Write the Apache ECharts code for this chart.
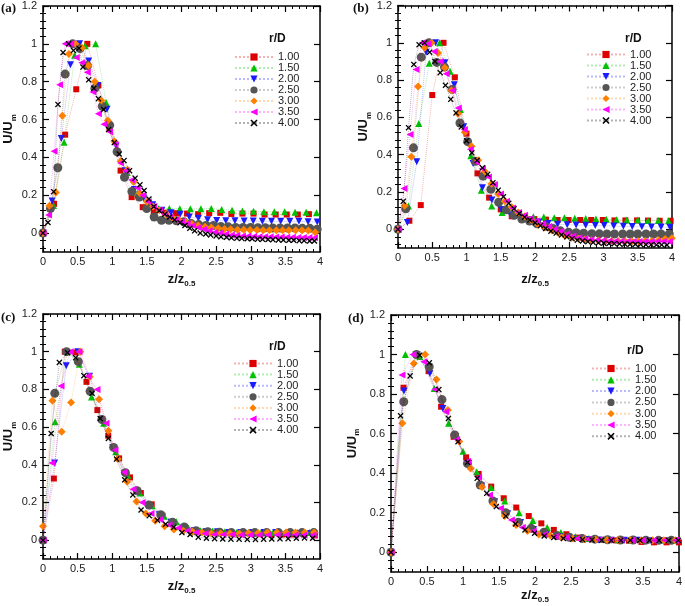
<!DOCTYPE html>
<html><head><meta charset="utf-8">
<script src="https://cdn.jsdelivr.net/npm/echarts@6/dist/echarts.min.js"></script>
<style>html,body{margin:0;padding:0;background:#fff}#c{width:685px;height:606px}</style>
</head><body><div id="c"></div>
<script>
// ---------- DATA ----------
const seriesNames = ['1.00','1.50','2.00','2.50','3.00','3.50','4.00'];
const panelLabels = ['(a)','(b)','(c)','(d)'];
const legendTitle = 'r/D';
const yMajorTicks = [0,0.2,0.4,0.6,0.8,1,1.2];
const yMinorTicks = [-0.08,-0.04,0.04,0.08,0.12,0.16,0.24,0.28,0.32,0.36,0.44,0.48,0.52,0.56,0.64,0.68,0.72,0.76,0.84,0.88,0.92,0.96,1.04,1.08,1.12,1.16];

// panel (a)
const a100x=[0,0.16,0.32,0.48,0.64,0.80,0.96,1.12,1.28,1.44,1.60,1.76,1.92,2.08,2.24,2.40,2.56,2.72,2.88,3.04,3.20,3.36,3.52,3.68,3.84];
const a100y=[0,0.155,0.52,0.76,1.0,0.78,0.55,0.33,0.19,0.137,0.112,0.108,0.105,0.103,0.10,0.105,0.107,0.101,0.103,0.103,0.098,0.098,0.098,0.098,0.100];
const a150x=[0,0.152,0.304,0.456,0.608,0.76,0.912,1.064,1.216,1.368,1.52,1.672,1.824,1.976,2.128,2.28,2.43,2.58,2.73,2.88,3.04,3.19,3.34,3.49,3.64,3.80,3.95];
const a150y=[0,0.146,0.48,0.94,0.99,1.0,0.69,0.45,0.32,0.21,0.155,0.13,0.13,0.128,0.128,0.128,0.13,0.125,0.12,0.117,0.115,0.113,0.113,0.113,0.11,0.11,0.108];
const a200x=[0,0.132,0.264,0.396,0.528,0.66,0.792,0.924,1.056,1.188,1.32,1.452,1.584,1.716,1.848,1.98,2.112,2.244,2.376,2.508,2.64,2.772,2.904,3.036,3.168,3.30,3.432,3.564,3.696,3.828,3.96];
const a200y=[0,0.17,0.50,0.89,1.0,0.91,0.78,0.655,0.46,0.33,0.23,0.185,0.15,0.12,0.108,0.10,0.085,0.078,0.07,0.066,0.065,0.065,0.064,0.064,0.062,0.062,0.062,0.062,0.062,0.06,0.058];
const a250x=[0,0.107,0.214,0.32,0.428,0.535,0.642,0.749,0.856,0.963,1.07,1.177,1.284,1.391,1.498,1.605,1.712,1.819,1.926,2.033,2.14,2.247,2.354,2.461,2.568,2.675,2.782,2.889,2.996,3.103,3.21,3.317,3.424,3.531,3.638,3.745,3.852,3.959];
const a250y=[0,0.13,0.345,0.84,1.0,0.975,0.885,0.765,0.67,0.57,0.43,0.295,0.22,0.19,0.13,0.085,0.068,0.068,0.065,0.06,0.05,0.045,0.04,0.04,0.035,0.033,0.03,0.03,0.03,0.028,0.028,0.027,0.027,0.027,0.027,0.025,0.025,0.02];
const a300x=[0,0.094,0.187,0.28,0.374,0.468,0.561,0.655,0.748,0.842,0.935,1.03,1.12,1.22,1.31,1.40,1.50,1.59,1.68,1.78,1.87,1.96,2.06,2.15,2.24,2.34,2.43,2.53,2.62,2.71,2.81,2.90,2.99,3.09,3.18,3.27,3.37,3.46,3.55,3.65,3.74,3.83,3.93];
const a300y=[0,0.145,0.215,0.62,0.947,1.0,0.98,0.885,0.80,0.70,0.595,0.485,0.38,0.335,0.27,0.21,0.165,0.14,0.12,0.10,0.08,0.07,0.058,0.048,0.04,0.034,0.03,0.026,0.022,0.02,0.018,0.017,0.016,0.016,0.015,0.015,0.015,0.015,0.015,0.015,0.015,0.014,0.005];
const a350x=[0,0.08,0.16,0.24,0.32,0.40,0.48,0.56,0.64,0.72,0.80,0.88,0.96,1.04,1.12,1.20,1.28,1.36,1.44,1.52,1.60,1.68,1.76,1.84,1.92,2.00,2.08,2.16,2.24,2.32,2.40,2.48,2.56,2.64,2.72,2.80,2.88,2.96,3.04,3.12,3.20,3.28,3.36,3.44,3.52,3.60,3.68,3.76,3.84,3.92];
const a350y=[0,0.095,0.433,0.784,1.0,1.0,0.928,0.90,0.85,0.745,0.63,0.575,0.535,0.47,0.37,0.33,0.28,0.24,0.20,0.165,0.14,0.12,0.10,0.085,0.07,0.06,0.05,0.04,0.03,0.02,0.012,0.005,0,-0.005,-0.01,-0.012,-0.015,-0.016,-0.018,-0.019,-0.02,-0.02,-0.021,-0.021,-0.022,-0.022,-0.023,-0.023,-0.024,-0.025];
const a400x=[0,0.072,0.154,0.216,0.29,0.37,0.44,0.52,0.577,0.66,0.735,0.80,0.875,0.947,1.03,1.1,1.17,1.25,1.33,1.40,1.46,1.53,1.6,1.68,1.76,1.83,1.9,1.98,2.05,2.12,2.19,2.27,2.35,2.42,2.5,2.57,2.65,2.72,2.8,2.87,2.95,3.02,3.1,3.17,3.25,3.32,3.4,3.47,3.55,3.62,3.7,3.77,3.85,3.92];
const a400y=[0,0.056,0.219,0.68,0.954,1.0,0.965,0.977,0.877,0.81,0.765,0.71,0.653,0.547,0.478,0.418,0.383,0.33,0.29,0.255,0.225,0.18,0.14,0.118,0.10,0.085,0.07,0.055,0.04,0.025,0.012,0,-0.005,-0.01,-0.015,-0.02,-0.022,-0.025,-0.027,-0.028,-0.03,-0.03,-0.032,-0.033,-0.034,-0.035,-0.036,-0.037,-0.038,-0.038,-0.04,-0.04,-0.042,-0.042];

// panel (b)
const b100x=[0,0.166,0.332,0.50,0.665,0.83,1.0,1.16,1.33,1.5,1.66,1.83,1.99,2.16,2.33,2.49,2.66,2.82,2.99,3.16,3.32,3.49,3.65,3.82,3.98];
const b100y=[0,0.046,0.13,0.72,1.0,0.815,0.513,0.30,0.17,0.107,0.07,0.06,0.055,0.052,0.05,0.05,0.05,0.05,0.05,0.048,0.048,0.048,0.047,0.046,0.046];
const b150x=[0,0.152,0.304,0.456,0.608,0.76,0.912,1.064,1.216,1.368,1.52,1.672,1.824,1.976,2.128,2.28,2.43,2.58,2.74,2.89,3.04,3.19,3.34,3.5,3.65,3.8,3.95];
const b150y=[0,0.125,0.567,0.89,1.0,0.848,0.642,0.394,0.21,0.125,0.09,0.08,0.07,0.068,0.066,0.062,0.062,0.06,0.058,0.056,0.054,0.052,0.05,0.05,0.048,0.048,0.046];
const b200x=[0,0.137,0.274,0.411,0.548,0.685,0.822,0.959,1.096,1.233,1.37,1.507,1.644,1.781,1.918,2.055,2.19,2.33,2.47,2.6,2.74,2.88,3.01,3.15,3.29,3.42,3.56,3.7,3.84,3.97];
const b200y=[0,0.037,0.362,0.95,1.0,0.893,0.775,0.55,0.353,0.223,0.157,0.107,0.077,0.059,0.05,0.04,0.032,0.027,0.025,0.023,0.022,0.02,0.02,0.018,0.016,0.015,0.014,0.013,0.012,0.011];
const b250x=[0,0.113,0.226,0.34,0.452,0.565,0.678,0.79,0.904,1.017,1.13,1.243,1.356,1.47,1.582,1.695,1.808,1.92,2.03,2.15,2.26,2.37,2.49,2.6,2.71,2.83,2.94,3.05,3.16,3.28,3.39,3.5,3.62,3.73,3.84,3.96];
const b250y=[0,0.11,0.437,0.923,1.0,0.895,0.87,0.75,0.57,0.47,0.365,0.285,0.215,0.145,0.105,0.075,0.055,0.045,0.03,0.015,0.005,-0.008,-0.015,-0.018,-0.021,-0.023,-0.024,-0.025,-0.025,-0.025,-0.025,-0.025,-0.025,-0.025,-0.025,-0.025];
const b300x=[0,0.098,0.195,0.293,0.39,0.488,0.585,0.683,0.78,0.878,0.975,1.073,1.17,1.268,1.365,1.463,1.56,1.658,1.755,1.853,1.95,2.048,2.145,2.243,2.34,2.438,2.535,2.633,2.73,2.828,2.925,3.023,3.12,3.218,3.315,3.413,3.51,3.608,3.705,3.803,3.9,3.998];
const b300y=[0,0.127,0.389,0.766,0.973,1.0,0.945,0.866,0.745,0.62,0.52,0.445,0.37,0.31,0.245,0.19,0.15,0.12,0.09,0.07,0.05,0.025,0.01,-0.005,-0.02,-0.035,-0.045,-0.05,-0.055,-0.058,-0.06,-0.062,-0.063,-0.064,-0.064,-0.064,-0.064,-0.063,-0.062,-0.058,-0.052,-0.048];
const b350x=[0,0.088,0.176,0.264,0.352,0.44,0.528,0.616,0.704,0.792,0.88,0.968,1.056,1.144,1.232,1.32,1.408,1.496,1.584,1.672,1.76,1.848,1.936,2.024,2.112,2.2,2.288,2.376,2.464,2.552,2.64,2.728,2.816,2.904,2.992,3.08,3.168,3.256,3.344,3.432,3.52,3.608,3.696,3.784,3.872,3.96];
const b350y=[0,0.219,0.508,0.857,1.0,0.995,0.954,0.9,0.834,0.745,0.65,0.535,0.43,0.36,0.325,0.28,0.24,0.19,0.15,0.115,0.09,0.075,0.06,0.045,0.03,0.015,0,-0.01,-0.025,-0.035,-0.045,-0.05,-0.055,-0.058,-0.06,-0.062,-0.064,-0.064,-0.065,-0.065,-0.065,-0.065,-0.065,-0.065,-0.065,-0.065];
const b400x=[0,0.077,0.154,0.231,0.308,0.385,0.462,0.539,0.616,0.693,0.77,0.847,0.924,1.001,1.078,1.155,1.232,1.309,1.386,1.463,1.54,1.617,1.694,1.771,1.848,1.925,2.002,2.079,2.156,2.233,2.31,2.387,2.464,2.541,2.618,2.695,2.772,2.849,2.926,3.003,3.08,3.157,3.234,3.311,3.388,3.465,3.542,3.619,3.696,3.773,3.85,3.927];
const b400y=[0,0.15,0.545,0.884,0.99,1.0,0.95,0.9,0.84,0.772,0.697,0.624,0.549,0.475,0.41,0.37,0.33,0.295,0.25,0.21,0.175,0.14,0.11,0.085,0.065,0.05,0.035,0.02,0.005,-0.01,-0.02,-0.03,-0.04,-0.05,-0.058,-0.062,-0.066,-0.07,-0.072,-0.074,-0.076,-0.077,-0.078,-0.079,-0.08,-0.08,-0.081,-0.082,-0.082,-0.083,-0.083,-0.084];

// panel (c)
const c100x=[0,0.157,0.314,0.471,0.628,0.785,0.942,1.099,1.256,1.413,1.57,1.727,1.884,2.041,2.198,2.355,2.512,2.669,2.826,2.983,3.14,3.297,3.454,3.611,3.768,3.925];
const c100y=[0,0.327,1.0,0.996,0.84,0.69,0.554,0.434,0.333,0.25,0.19,0.13,0.095,0.07,0.05,0.045,0.04,0.04,0.035,0.035,0.032,0.03,0.03,0.03,0.03,0.025];
const c150x=[0,0.175,0.35,0.525,0.70,0.875,1.05,1.225,1.4,1.575,1.75,1.925,2.1,2.275,2.45,2.625,2.8,2.975,3.15,3.325,3.5,3.675,3.85];
const c150y=[0,0.628,1.0,0.933,0.76,0.62,0.469,0.345,0.25,0.182,0.127,0.097,0.065,0.05,0.048,0.045,0.042,0.04,0.04,0.04,0.04,0.04,0.04];
const c200x=[0,0.168,0.336,0.504,0.672,0.84,1.008,1.176,1.344,1.512,1.68,1.848,2.016,2.184,2.352,2.52,2.688,2.856,3.024,3.192,3.36,3.528,3.696,3.864];
const c200y=[0,0.41,0.926,1.0,0.87,0.64,0.49,0.355,0.26,0.185,0.135,0.095,0.065,0.05,0.045,0.045,0.04,0.04,0.04,0.04,0.04,0.035,0.035,0.035];
const c250x=[0,0.17,0.34,0.51,0.68,0.85,1.02,1.19,1.36,1.53,1.7,1.87,2.04,2.21,2.38,2.55,2.72,2.89,3.06,3.23,3.4,3.57,3.74,3.91];
const c250y=[0,0.779,1.0,0.947,0.79,0.64,0.492,0.358,0.262,0.186,0.135,0.095,0.07,0.05,0.045,0.042,0.04,0.04,0.04,0.04,0.04,0.04,0.04,0.04];
const c300x=[0,0.135,0.27,0.405,0.54,0.675,0.81,0.945,1.08,1.215,1.35,1.485,1.62,1.755,1.89,2.025,2.16,2.295,2.43,2.565,2.7,2.835,2.97,3.105,3.24,3.375,3.51,3.645,3.78,3.915];
const c300y=[0.074,0.74,0.575,0.731,1.0,0.867,0.747,0.58,0.43,0.31,0.205,0.142,0.103,0.074,0.057,0.05,0.045,0.04,0.035,0.035,0.035,0.035,0.038,0.038,0.04,0.04,0.04,0.04,0.04,0.04];
const c350x=[0,0.13,0.26,0.39,0.52,0.65,0.78,0.91,1.04,1.17,1.3,1.43,1.56,1.69,1.82,1.95,2.08,2.21,2.34,2.47,2.6,2.73,2.86,2.99,3.12,3.25,3.38,3.51,3.64,3.77,3.9];
const c350y=[0,0.41,0.818,1.0,1.0,0.87,0.8,0.62,0.478,0.36,0.27,0.2,0.142,0.11,0.08,0.065,0.05,0.04,0.035,0.03,0.03,0.03,0.028,0.028,0.028,0.028,0.028,0.028,0.028,0.028,0.028];
const c400x=[0,0.118,0.236,0.354,0.472,0.59,0.708,0.826,0.944,1.062,1.18,1.298,1.416,1.534,1.652,1.77,1.888,2.006,2.124,2.242,2.36,2.478,2.596,2.714,2.832,2.95,3.068,3.186,3.304,3.422,3.54,3.658,3.776,3.894];
const c400y=[0,0.566,0.943,0.995,0.968,0.873,0.779,0.646,0.54,0.43,0.32,0.24,0.16,0.13,0.106,0.085,0.068,0.04,0.03,0.016,0.01,0.008,0.006,0.005,0.005,0.004,0.004,0.005,0.006,0.007,0.008,0.01,0.012,0.01];

// panel (d)
const d100x=[0,0.174,0.348,0.522,0.696,0.87,1.044,1.218,1.392,1.566,1.74,1.914,2.088,2.262,2.436,2.61,2.784,2.958,3.132,3.306,3.48,3.654,3.828,4.0];
const d100y=[0,0.832,1.0,0.916,0.736,0.584,0.48,0.396,0.332,0.273,0.226,0.183,0.146,0.113,0.091,0.074,0.066,0.062,0.06,0.058,0.052,0.05,0.05,0.05];
const d150x=[0,0.2,0.4,0.6,0.8,1.0,1.19,1.39,1.58,1.78,1.97,2.17,2.36,2.56,2.75,2.95,3.15,3.34,3.54,3.73,3.93];
const d150y=[0,1.0,0.99,0.828,0.652,0.511,0.407,0.327,0.259,0.2,0.16,0.125,0.1,0.08,0.07,0.066,0.063,0.062,0.06,0.06,0.06];
const d200x=[0,0.18,0.36,0.54,0.72,0.9,1.08,1.26,1.44,1.62,1.8,1.98,2.16,2.34,2.52,2.7,2.88,3.06,3.24,3.42,3.6,3.78,3.96];
const d200y=[0,0.815,1.0,0.904,0.727,0.584,0.45,0.335,0.255,0.195,0.15,0.115,0.09,0.078,0.07,0.065,0.062,0.06,0.06,0.06,0.058,0.058,0.058];
const d250x=[0,0.177,0.354,0.531,0.708,0.885,1.062,1.239,1.416,1.593,1.77,1.947,2.124,2.301,2.478,2.655,2.832,3.009,3.186,3.363,3.54,3.717,3.894];
const d250y=[0,0.761,1.0,0.938,0.772,0.593,0.449,0.34,0.259,0.2,0.152,0.121,0.101,0.084,0.076,0.07,0.066,0.063,0.062,0.062,0.061,0.06,0.06];
const d300x=[0,0.158,0.316,0.474,0.632,0.79,0.948,1.106,1.264,1.422,1.58,1.738,1.896,2.054,2.212,2.37,2.528,2.686,2.844,3.002,3.16,3.318,3.476,3.634,3.792,3.95];
const d300y=[0,0.652,0.955,1.0,0.874,0.719,0.56,0.424,0.33,0.244,0.183,0.138,0.108,0.09,0.084,0.075,0.07,0.066,0.064,0.062,0.062,0.062,0.06,0.06,0.06,0.06];
const d350x=[0,0.152,0.304,0.456,0.608,0.76,0.912,1.064,1.216,1.368,1.52,1.672,1.824,1.976,2.128,2.28,2.432,2.584,2.736,2.888,3.04,3.192,3.344,3.496,3.648,3.8,3.952];
const d350y=[0,0.896,1.0,0.963,0.823,0.71,0.57,0.46,0.379,0.29,0.222,0.163,0.125,0.108,0.09,0.08,0.075,0.07,0.066,0.063,0.062,0.06,0.06,0.06,0.06,0.06,0.06];
const d400x=[0,0.133,0.266,0.399,0.532,0.665,0.798,0.931,1.064,1.197,1.33,1.463,1.596,1.729,1.862,1.995,2.128,2.261,2.394,2.527,2.66,2.793,2.926,3.059,3.192,3.325,3.458,3.591,3.724,3.857,3.99];
const d400y=[0,0.69,0.892,0.997,0.958,0.823,0.677,0.559,0.455,0.374,0.298,0.231,0.183,0.143,0.113,0.096,0.082,0.075,0.07,0.066,0.064,0.062,0.06,0.06,0.06,0.06,0.06,0.06,0.06,0.06,0.06];

// ---------- BUILD ----------
function zip(xs, ys){ return xs.map((x,i)=>[x, ys[i]]); }
const panelData = [
  [[a100x,a100y],[a150x,a150y],[a200x,a200y],[a250x,a250y],[a300x,a300y],[a350x,a350y],[a400x,a400y]],
  [[b100x,b100y],[b150x,b150y],[b200x,b200y],[b250x,b250y],[b300x,b300y],[b350x,b350y],[b400x,b400y]],
  [[c100x,c100y],[c150x,c150y],[c200x,c200y],[c250x,c250y],[c300x,c300y],[c350x,c350y],[c400x,c400y]],
  [[d100x,d100y],[d150x,d150y],[d200x,d200y],[d250x,d250y],[d300x,d300y],[d350x,d350y],[d400x,d400y]]
];

const FONT = '"Liberation Sans", Arial, sans-serif';
const X_PATH = 'path://M0,1.5L1.5,0L5,3.5L8.5,0L10,1.5L6.5,5L10,8.5L8.5,10L5,6.5L1.5,10L0,8.5L3.5,5Z';
const markStyles = [
  {symbol:'rect', size:6, rotate:0, color:'#dd0000'},
  {symbol:'triangle', size:7, rotate:0, color:'#00c000'},
  {symbol:'triangle', size:7, rotate:180, color:'#1a1aff'},
  {symbol:'circle', size:9, rotate:0, color:'#555555'},
  {symbol:'diamond', size:8, rotate:0, color:'#ff8000'},
  {symbol:'triangle', size:7, rotate:90, color:'#ff00ff'},
  {symbol:X_PATH, size:6, rotate:0, color:'#000000'}
];

const grids = [
  {left:43, top:6, width:277, height:246},
  {left:398, top:5, width:274, height:243},
  {left:43, top:314, width:277, height:245},
  {left:391, top:315, width:290, height:257}
];
const xNameGap = [18, 22, 18, 14];
const yNameGap = [22, 19, 22, 30];
const legendPos = [
  {left:234, top:51.5, gap:0},
  {left:586, top:49, gap:0},
  {left:233, top:358, gap:0.1},
  {left:591, top:363, gap:0.3}
];
const titlePos = [
  {left:1, top:2}, {left:353, top:2}, {left:1, top:311}, {left:348, top:312}
];
const rdPos = [
  {left:269, top:33}, {left:625, top:33}, {left:269, top:341}, {left:627, top:345}
];

const richName = {
  m:{fontSize:13, fontWeight:'bold', fontFamily:FONT, color:'#111', lineHeight:18},
  s:{fontSize:8, fontWeight:'bold', fontFamily:FONT, color:'#111', lineHeight:8, verticalAlign:'bottom'}
};
const frameLine = {show:true, onZero:false, lineStyle:{color:'#000', width:1.5}};

const xAxis = [], yAxis = [], series = [], legend = [], title = [];
grids.forEach((g, i) => {
  xAxis.push({
    type:'value', gridIndex:i, min:0, max:4, interval:0.5, position:'bottom',
    name:'{m|z/z}{s|0.5}', nameLocation:'middle', nameGap:xNameGap[i],
    nameTextStyle:{rich:richName},
    axisLine:frameLine,
    axisTick:{show:true, inside:true, length:6, lineStyle:{color:'#000', width:1.2}},
    minorTick:{show:true, splitNumber:5, length:3, lineStyle:{color:'#000', width:1}},
    axisLabel:{fontSize:11, color:'#222', fontFamily:FONT, margin:4},
    splitLine:{show:false}, minorSplitLine:{show:false}
  });
  xAxis.push({
    type:'value', gridIndex:i, min:0, max:4, interval:0.5, position:'top',
    axisLine:frameLine,
    axisTick:{show:true, inside:true, length:6, lineStyle:{color:'#000', width:1.2}},
    minorTick:{show:true, splitNumber:5, length:3, lineStyle:{color:'#000', width:1}},
    axisLabel:{show:false}, splitLine:{show:false}
  });
  const yBase = {type:'value', gridIndex:i, min:-0.1, max:1.2, splitLine:{show:false}};
  yAxis.push(Object.assign({}, yBase, {
    position:'left',
    name:'{m|U/U}{s|m}', nameLocation:'middle', nameGap:yNameGap[i],
    nameTextStyle:{rich:richName},
    axisLine:frameLine,
    axisTick:{show:true, inside:true, length:6, customValues:yMajorTicks, lineStyle:{color:'#000', width:1.2}},
    axisLabel:{show:true, customValues:yMajorTicks, fontSize:11, color:'#222', fontFamily:FONT, margin:6}
  }));
  yAxis.push(Object.assign({}, yBase, {
    position:'left', axisLine:{show:false},
    axisTick:{show:true, inside:true, length:3, customValues:yMinorTicks, lineStyle:{color:'#000', width:1}},
    axisLabel:{show:false}
  }));
  yAxis.push(Object.assign({}, yBase, {
    position:'right', axisLine:frameLine,
    axisTick:{show:true, inside:true, length:6, customValues:yMajorTicks, lineStyle:{color:'#000', width:1.2}},
    axisLabel:{show:false}
  }));
  yAxis.push(Object.assign({}, yBase, {
    position:'right', axisLine:{show:false},
    axisTick:{show:true, inside:true, length:3, customValues:yMinorTicks, lineStyle:{color:'#000', width:1}},
    axisLabel:{show:false}
  }));
  panelData[i].forEach((pair, k) => {
    const st = markStyles[k];
    series.push({
      name:seriesNames[k], type:'line', xAxisIndex:2*i, yAxisIndex:4*i,
      data:zip(pair[0], pair[1]),
      symbol:st.symbol, symbolSize:st.size, symbolRotate:st.rotate, showSymbol:true,
      itemStyle:{color:st.color, opacity:1},
      lineStyle:{color:st.color, width:1, type:'dotted', opacity:0.3},
      animation:false, silent:true, z:2+k
    });
  });
  legend.push({
    orient:'vertical', left:legendPos[i].left, top:legendPos[i].top,
    itemWidth:38, itemHeight:9, itemGap:legendPos[i].gap, selectedMode:false,
    data:seriesNames, padding:0,
    textStyle:{fontSize:11, color:'#222', fontFamily:FONT, lineHeight:10, padding:[0,0,0,0]}
  });
  title.push({text:panelLabels[i], left:titlePos[i].left, top:titlePos[i].top, padding:0,
    textStyle:{fontFamily:'"Liberation Serif", "Times New Roman", serif', fontWeight:'bold', fontSize:13, color:'#111'}});
  title.push({text:legendTitle, left:rdPos[i].left, top:rdPos[i].top, padding:0,
    textStyle:{fontFamily:FONT, fontWeight:'bold', fontSize:12, color:'#111'}});
});

const chart = echarts.init(document.getElementById('c'), null, {renderer:'canvas'});
chart.setOption({
  animation:false,
  backgroundColor:'#fff',
  title, legend,
  grid: grids.map(g => Object.assign({containLabel:false}, g)),
  xAxis, yAxis, series
});
</script>
</body></html>
